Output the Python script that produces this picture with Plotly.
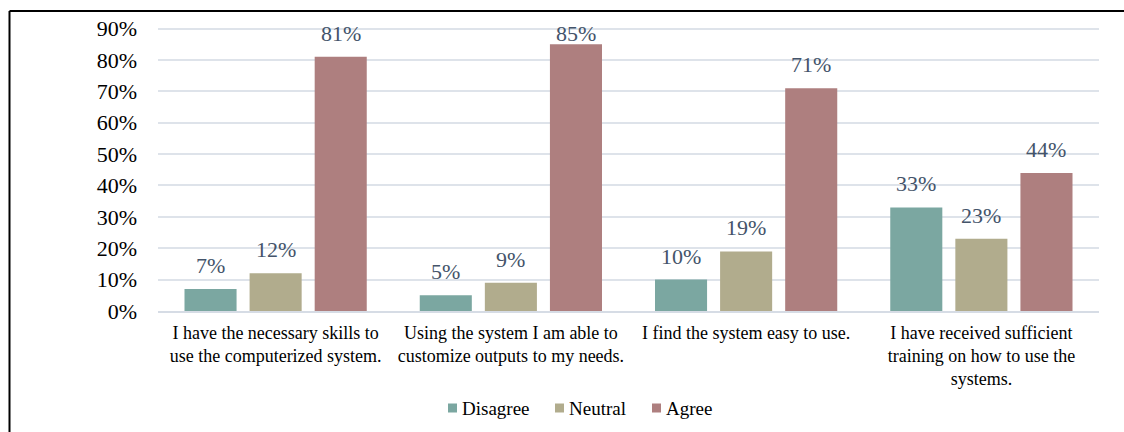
import plotly.graph_objects as go

# Survey statements (x categories) and share of respondents per answer, in %
categories = [
    "I have the necessary skills to<br>use the computerized system.",
    "Using the system I am able to<br>customize outputs to my needs.",
    "I find the system easy to use.",
    "I have received sufficient<br>training on how to use the<br>systems.",
]
series_names = ["Disagree", "Neutral", "Agree"]
disagree = [7, 5, 10, 33]
neutral = [12, 9, 19, 23]
agree = [81, 85, 71, 44]
y_ticks = [0, 10, 20, 30, 40, 50, 60, 70, 80, 90]
y_tick_labels = [f"{t}%" for t in y_ticks]

colors = ["#7BA7A1", "#B1AC8D", "#AE7F7F"]
label_color = "#44546A"
serif = "Liberation Serif, Times New Roman, serif"

W, H = 1124, 432
ML, MR, MT, MB = 158, 25, 27, 121
plot_w = W - ML - MR
plot_h = H - MT - MB


def px_x(p):
    return (p - ML) / plot_w


def px_y(p):
    return (H - MB - p) / plot_h


fig = go.Figure()
values = [disagree, neutral, agree]
for name, vals, col in zip(series_names, values, colors):
    fig.add_trace(go.Bar(
        name=name,
        x=list(range(len(categories))),
        y=vals,
        marker=dict(color=col, line=dict(width=0)),
        showlegend=False,
    ))

# Value labels above each bar; labels near the top edge are held down
bargap = 0.17
slot = (1 - bargap) / 3
label_ceiling = 81
for k, vals in enumerate(values):
    offset = (k - 1) * slot
    for i, v in enumerate(vals):
        fig.add_annotation(
            x=i + offset, y=min(v, label_ceiling), xref="x", yref="y",
            text=f"{v}%", showarrow=False,
            yanchor="bottom", yshift=9,
            font=dict(family=serif, size=22, color=label_color),
        )

# Legend row: colour square followed by the series name
legend_left = [448, 555, 652]
legend_y = 408
sq = 9
for name, col, left in zip(series_names, colors, legend_left):
    fig.add_shape(type="rect", xref="paper", yref="paper",
                  x0=px_x(left), x1=px_x(left + sq),
                  y0=px_y(legend_y + sq / 2), y1=px_y(legend_y - sq / 2),
                  fillcolor=col, line=dict(width=0))
    fig.add_annotation(x=px_x(left + sq + 3), y=px_y(legend_y),
                       xref="paper", yref="paper", text=name,
                       showarrow=False, xanchor="left", yanchor="middle",
                       font=dict(family=serif, size=19, color="black"))

# Frame lines along the top and left edges
fx = px_x(9.5)
fy = px_y(11)
fig.add_shape(type="line", xref="paper", yref="paper",
              x0=fx, x1=px_x(W + 5), y0=fy, y1=fy,
              line=dict(color="black", width=2))
fig.add_shape(type="line", xref="paper", yref="paper",
              x0=fx, x1=fx, y0=fy, y1=px_y(H + 5),
              line=dict(color="black", width=2))

fig.update_layout(
    template="none",
    width=W, height=H,
    margin=dict(l=ML, r=MR, t=MT, b=MB, autoexpand=False),
    paper_bgcolor="white", plot_bgcolor="white",
    barmode="group", bargap=bargap, bargroupgap=0.2,
    font=dict(family=serif, color="black"),
    showlegend=False,
    xaxis=dict(
        tickmode="array", tickvals=list(range(len(categories))),
        ticktext=categories, range=[-0.5, len(categories) - 0.5],
        tickfont=dict(family=serif, size=18, color="black"),
        showgrid=False, showline=True, linecolor="#D6DCE5", linewidth=2,
        ticks="", zeroline=False, automargin=False, ticklabelstandoff=4,
    ),
    yaxis=dict(
        range=[0, 90.5], tickvals=y_ticks, ticktext=y_tick_labels,
        tickfont=dict(family=serif, size=22, color="black"),
        showgrid=True, gridcolor="#DEE3EA", gridwidth=2,
        zeroline=False, showline=False, ticks="", ticklabelstandoff=20,
        automargin=False,
    ),
)

fig.write_html("out.html")
